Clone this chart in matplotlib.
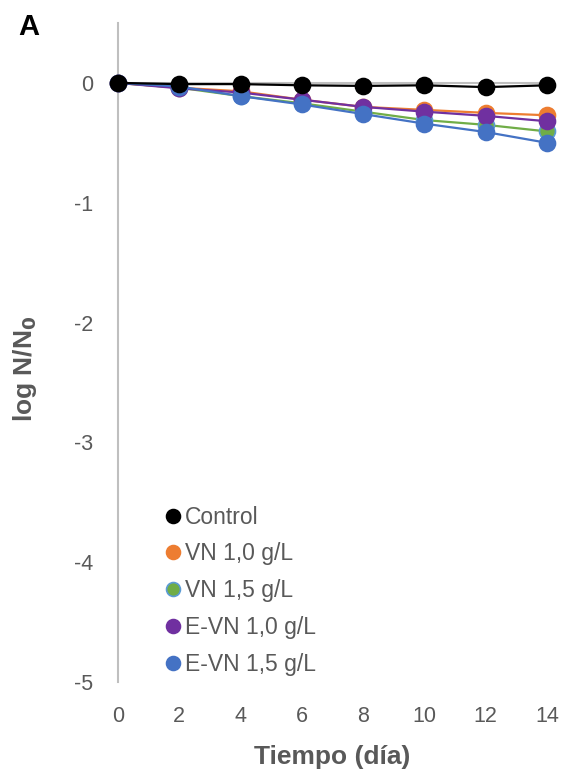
import matplotlib
matplotlib.use("Agg")
import matplotlib.pyplot as plt
from matplotlib.lines import Line2D

plt.rcParams["font.family"] = ["Liberation Sans", "DejaVu Sans"]

# days of storage
days = [0, 2, 4, 6, 8, 10, 12, 14]

# log N/N0 per treatment
control = [0, -0.01, -0.01, -0.02, -0.025, -0.02, -0.035, -0.02]
vn_10 = [0, -0.04, -0.07, -0.14, -0.20, -0.225, -0.25, -0.27]
vn_15 = [0, -0.04, -0.11, -0.17, -0.24, -0.31, -0.35, -0.405]
evn_10 = [0, -0.045, -0.08, -0.14, -0.20, -0.24, -0.275, -0.32]
evn_15 = [0, -0.03, -0.11, -0.18, -0.26, -0.34, -0.41, -0.50]

labels = ["Control", "VN 1,0 g/L", "VN 1,5 g/L", "E-VN 1,0 g/L", "E-VN 1,5 g/L"]
series = [control, vn_10, vn_15, evn_10, evn_15]
faces = ["#000000", "#ED7D31", "#70AD47", "#7030A0", "#4472C4"]
edges = ["#000000", "#ED7D31", "#5B9BD5", "#7030A0", "#4472C4"]
zorders = [8, 4, 5, 6, 7]

x_ticks = [0, 2, 4, 6, 8, 10, 12, 14]
y_ticks = [0, -1, -2, -3, -4, -5]

fig = plt.figure(figsize=(5.65, 7.72), dpi=100)
ax = fig.add_axes([0.2088, 0.1166, 0.7593, 0.8536])

ax.axhline(0, color="#BFBFBF", linewidth=1.5, zorder=1)

for vals, fc, ec, z in zip(series, faces, edges, zorders):
    ax.plot(days, vals, color=fc, linewidth=1.6, zorder=z, clip_on=False)
    ax.plot(days, vals, linestyle="none", marker="o", markersize=11.5,
            markerfacecolor=fc, markeredgecolor=ec, markeredgewidth=1.2,
            zorder=z + 0.5, clip_on=False)

ax.set_xlim(0, 14)
ax.set_ylim(-5, 0.5)
ax.set_xticks(x_ticks)
ax.set_yticks(y_ticks)
ax.set_yticklabels([str(t) for t in y_ticks])

for side in ["top", "right", "bottom"]:
    ax.spines[side].set_visible(False)
ax.spines["left"].set_color("#BFBFBF")
ax.spines["left"].set_linewidth(1.5)
ax.tick_params(axis="both", length=0, labelsize=15.5, colors="#595959")
ax.tick_params(axis="x", pad=17)
ax.tick_params(axis="y", pad=18)

ax.set_xlabel("Tiempo (día)", fontsize=19, fontweight="bold", color="#595959")
ax.xaxis.set_label_coords(0.5, -0.096)
ax.set_ylabel("log N/N$_\\mathbf{0}$", fontsize=19, fontweight="bold",
              color="#595959")
ax.yaxis.set_label_coords(-0.183, 0.476)

handles = [Line2D([], [], linestyle="none", marker="o", markersize=10,
                  markerfacecolor=fc, markeredgecolor=ec, markeredgewidth=1.2)
           for fc, ec in zip(faces, edges)]
leg = fig.legend(handles, labels, loc="lower left",
                 bbox_to_anchor=(0.266, 0.11), frameon=False,
                 fontsize=16.5, handletextpad=0.0, handlelength=1.0,
                 labelspacing=0.6, borderpad=0)
for t in leg.get_texts():
    t.set_color("#595959")

fig.text(0.033, 0.955, "A", fontsize=21, fontweight="bold", color="#000000")

fig.savefig("out.png", dpi=100)
